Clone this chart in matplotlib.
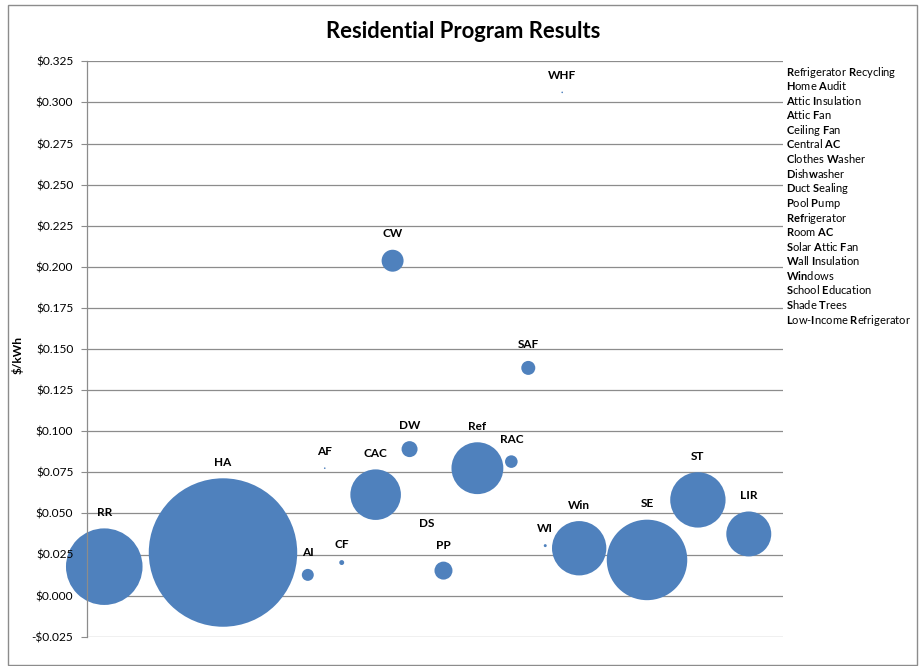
#!/usr/bin/env python3
import re

import matplotlib
import matplotlib.pyplot as plt
from matplotlib.patches import Rectangle
from matplotlib.ticker import FuncFormatter

matplotlib.use("Agg")

FONT = "Lato"
plt.rcParams["font.family"] = [FONT, "DejaVu Sans"]
plt.rcParams["mathtext.fontset"] = "custom"
plt.rcParams["mathtext.rm"] = FONT
plt.rcParams["mathtext.bf"] = FONT + ":bold"

# program abbreviations, x position, $/kWh and relative bubble size (area)
codes = ["RR", "HA", "AI", "AF", "CF", "CAC", "CW", "DW", "DS", "PP",
         "Ref", "RAC", "SAF", "WI", "WHF", "Win", "SE", "ST", "LIR"]
x_pos = [1, 8, 13, 14, 15, 17, 18, 19, 20, 21,
         23, 25, 26, 27, 28, 29, 33, 36, 39]
cost = [0.0176, 0.0262, 0.0126, 0.0775, 0.0201, 0.0614, 0.2037, 0.0891,
        0.0343, 0.0152, 0.0775, 0.0815, 0.1385, 0.0304, 0.3061, 0.0288,
        0.0217, 0.0582, 0.0375]
bubble = [26.6, 100.0, 0.65, 0.012, 0.11, 11.6, 2.19, 1.16, 0.0, 1.47,
          12.2, 0.72, 0.89, 0.04, 0.012, 13.4, 29.4, 13.9, 9.17]

# side list, [..] marks the bold letters
program_names = [
    "[R]efrigerator [R]ecycling", "[H]ome [A]udit", "[A]ttic [I]nsulation",
    "[A]ttic [F]an", "[C]eiling [F]an", "[C]entral [AC]",
    "[C]lothes [W]asher", "[D]ish[w]asher", "[D]uct [S]ealing",
    "[P]ool [P]ump", "[Ref]rigerator", "[R]oom [AC]",
    "[S]olar [A]ttic [F]an", "[W]all [I]nsulation", "[Win]dows",
    "[S]chool [E]ducation", "[S]hade [T]rees",
    "[L]ow-[I]ncome [R]efrigerator",
]

y_ticks = [-0.025 + 0.025 * i for i in range(15)]

BLUE = "#4F81BD"
GRID = "#8c8c8c"
DPI = 100


def to_mathtext(name: str) -> str:
    return re.sub(r"\[([^\]]+)\]", r"$\\mathbf{\1}$", name)


def money(v: float, _pos=None) -> str:
    if abs(v) < 1e-9:
        v = 0.0
    return f"-${abs(v):.3f}" if v < 0 else f"${v:.3f}"


fig = plt.figure(figsize=(9.21, 6.66), dpi=DPI)
rect = [87.3 / 921, 1 - 636.7 / 666, (782.7 - 87.3) / 921, (636.7 - 61.3) / 666]
ax = fig.add_axes(rect)
ax.set_xlim(0, 41)
ax.set_ylim(-0.025, 0.325)
ax.set_axisbelow(True)
ax.set_yticks(y_ticks)
ax.yaxis.grid(True, color=GRID, linewidth=0.9)
ax.tick_params(axis="y", length=4, color=GRID, labelleft=False)
ax.set_xticks([])
for side in ("top", "right", "bottom"):
    ax.spines[side].set_visible(False)
ax.spines["left"].set_color(GRID)
ax.spines["left"].set_linewidth(0.9)

# bubbles: biggest diameter is a fixed share of plot height
ax_h_px = rect[3] * fig.get_figheight() * DPI
max_d_pt = 0.258 * ax_h_px * 72 / DPI
big = max(bubble)
sizes = [max_d_pt ** 2 * b / big for b in bubble]
ax.scatter(x_pos, cost, s=sizes, color=BLUE, edgecolors="none",
           zorder=2, clip_on=False)

for code, x, y, s in zip(codes, x_pos, cost, sizes):
    r_pt = (s ** 0.5) / 2
    ax.annotate(code, (x, y), xytext=(0, r_pt + 11.5),
                textcoords="offset points", ha="center", va="center",
                fontsize=8.5, fontweight="bold", zorder=4)

# overlay axis that only carries tick labels, above the bubbles
ax2 = fig.add_axes(rect, sharey=ax)
ax2.set_zorder(ax.get_zorder() + 1)
ax2.patch.set_visible(False)
for sp in ax2.spines.values():
    sp.set_visible(False)
ax2.set_xticks([])
ax2.tick_params(axis="y", length=0, pad=10, labelsize=8.6)
ax2.yaxis.set_major_formatter(FuncFormatter(money))

fig.text(18 / 921, 1 - 355 / 666, "$/kWh", rotation=90, ha="center",
         va="center", fontsize=8.6, fontweight="bold")
fig.text(463 / 921, 1 - 32 / 666, "Residential Program Results",
         ha="center", va="center", fontsize=15.8, fontweight="bold")

for i, name in enumerate(program_names):
    fig.text(786 / 921, 1 - (75.5 + 14.6 * i) / 666, to_mathtext(name),
             ha="left", va="baseline", fontsize=8.0)

fig.patches.append(Rectangle((8 / 921, 1 - 665 / 666), 909 / 921, 660 / 666,
                             transform=fig.transFigure, fill=False,
                             edgecolor=GRID, linewidth=1.0))

fig.savefig("out.png", dpi=DPI)
